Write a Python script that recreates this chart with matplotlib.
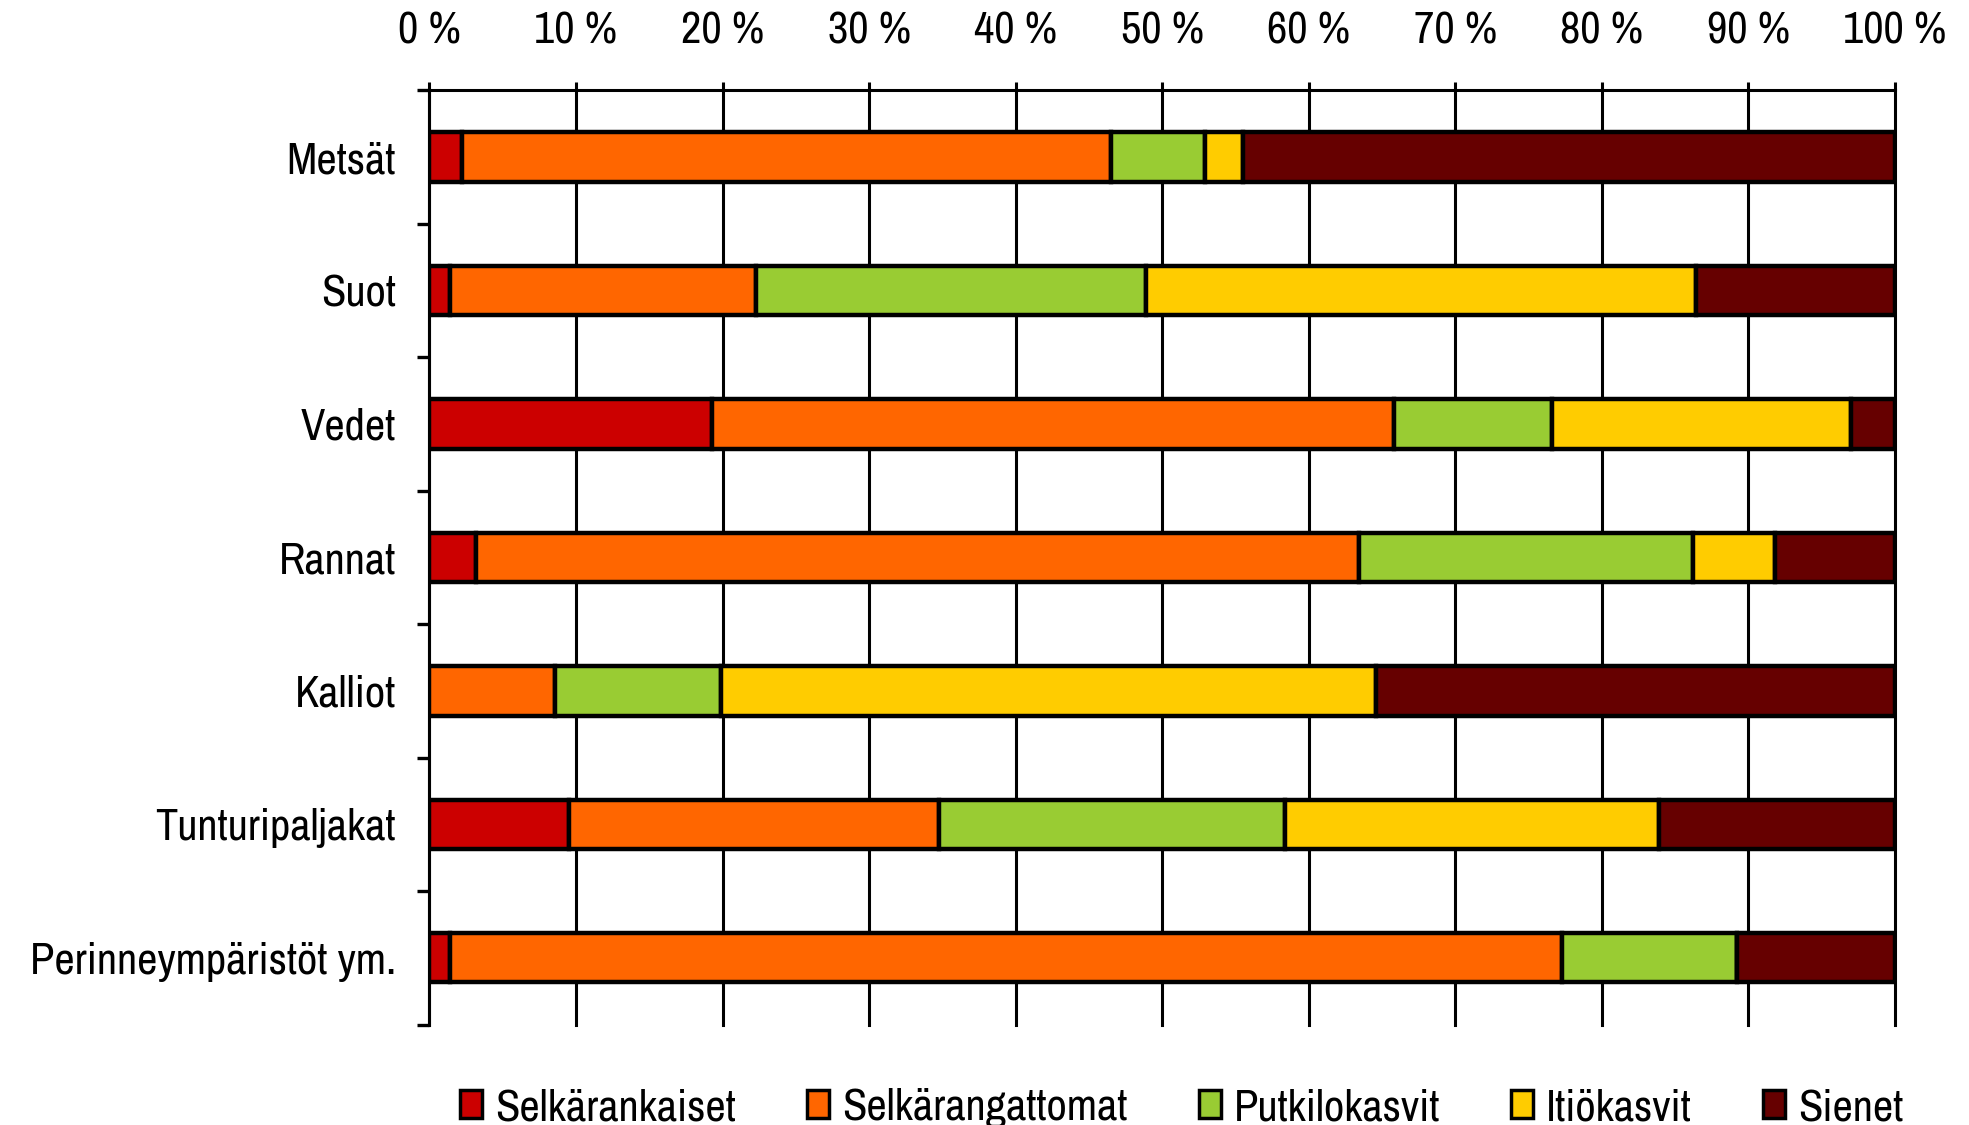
import numpy as np
import matplotlib.pyplot as plt
from matplotlib.patches import Patch

categories = ["Metsät", "Suot", "Vedet", "Rannat", "Kalliot",
              "Tunturipaljakat", "Perinneympäristöt ym."]
groups = ["Selkärankaiset", "Selkärangattomat", "Putkilokasvit", "Itiökasvit", "Sienet"]
colors = ["#CC0000", "#FF6600", "#99CC33", "#FFCC00", "#660000"]

# shares in percent, one list per group (order follows categories)
selkarankaiset = [2.2, 1.4, 19.3, 3.2, 0.0, 9.5, 1.4]
selkarangattomat = [44.3, 20.9, 46.5, 60.2, 8.6, 25.3, 75.9]
putkilokasvit = [6.4, 26.6, 10.8, 22.8, 11.3, 23.6, 11.9]
itiokasvit = [2.6, 37.5, 20.4, 5.6, 44.7, 25.5, 0.0]
sienet = [44.5, 13.6, 3.0, 8.2, 35.4, 16.1, 10.8]

series = [selkarankaiset, selkarangattomat, putkilokasvit, itiokasvit, sienet]
xticks = np.arange(0, 101, 10)
xticklabels = [f"{v} %" for v in xticks]

# narrow grotesque if present, otherwise Liberation Sans
plt.rcParams['font.family'] = ["Archivo Narrow", "Liberation Sans", "DejaVu Sans"]
fs = 32

fig = plt.figure(figsize=(19.69, 11.25), dpi=100)
ax = fig.add_axes([0.2181, 0.0893, 0.7443, 0.8304])

y = np.arange(len(categories))
left = np.zeros(len(categories))
for vals, col in zip(series, colors):
    vals = np.array(vals)
    ax.barh(y, vals, left=left, height=0.37, color=col,
            edgecolor="black", linewidth=3.2, zorder=3)
    left += vals

ax.set_xlim(0, 100)
ax.set_ylim(len(categories) - 0.5, -0.5)
ax.xaxis.tick_top()
ax.set_xticks(xticks)
ax.set_xticklabels(xticklabels, fontsize=fs)
ax.tick_params(axis="x", length=6, width=2.2, pad=22, color="black")
ax.grid(axis="x", color="black", linewidth=2.2, zorder=1)
for gl in ax.get_xgridlines():
    gl.set_clip_on(False)

ax.set_yticks(y)
ax.set_yticklabels(categories, fontsize=fs)
ax.set_yticks(np.arange(-0.5, len(categories) + 0.5, 1), minor=True)
ax.tick_params(axis="y", which="major", length=0, pad=24)
ax.tick_params(axis="y", which="minor", length=9, width=2.4)

for s in ["right", "bottom"]:
    ax.spines[s].set_visible(False)
for s in ["top", "left"]:
    ax.spines[s].set_linewidth(2.2)

handles = [Patch(facecolor=c, edgecolor="black", linewidth=2.5) for c in colors]
fig.legend(handles, groups, loc="center left", bbox_to_anchor=(0.2336, 0.015),
           ncol=5, frameon=False, fontsize=fs, handlelength=0.5,
           handleheight=0.59, handletextpad=0.29, columnspacing=1.6,
           borderpad=0, borderaxespad=0)

fig.savefig("out.png", dpi=100)
